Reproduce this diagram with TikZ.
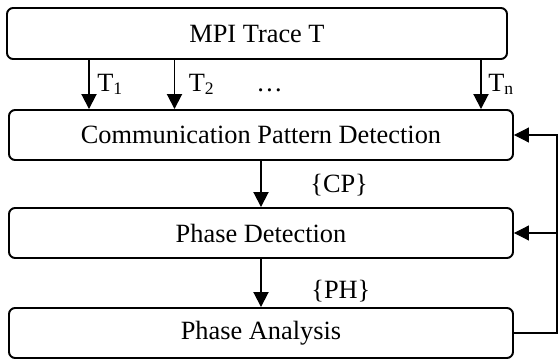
\documentclass[tikz,border=0pt]{standalone}
\usepackage{fontspec}
\setmainfont{Liberation Serif}
\usepackage{tikz}
\usetikzlibrary{arrows.meta,calc}
\tikzset{
    blk/.style={draw, rounded corners=3.5pt, line width=1.1pt, inner sep=0pt, minimum width=10.08cm, minimum height=1cm, font=\fontsize{15}{18}\selectfont},
    lbl/.style={inner sep=0pt, anchor=base west, font=\fontsize{15}{18}\selectfont},
    tri/.tip={Triangle[length=0.3cm,width=0.3cm]}}
\newcommand{\subs}[1]{\raisebox{-1.5pt}{\fontsize{10}{12}\selectfont #1}}

\begin{document}
\begin{tikzpicture}
\useasboundingbox (0,0) rectangle (11.16,7.18);

%Blocks
\node[blk, minimum width=10cm, minimum height=1.02cm] (trace) at (5.14,6.51) {MPI Trace T};
\node[blk] (cpd) at (5.22,4.48) {Communication Pattern Detection};
\node[blk] (phd) at (5.22,2.52) {Phase Detection};
\node[blk] (pha) at (5.22,0.52) {Phase Analysis};

%Split trace
\coordinate (t1) at (1.78,5.5);
\coordinate (t2) at (3.49,5.5);
\coordinate (tn) at (9.62,5.5);
\draw [-tri, line width=1.1pt](trace.south -| t1)--(cpd.north -| t1);
\draw [-tri, line width=1.1pt](trace.south -| t2)--(cpd.north -| t2);
\draw [-tri, line width=1.1pt](trace.south -| tn)--(cpd.north -| tn);
\node[lbl] (lt1) at (1.94,5.34) {T\subs{1}};
\node[lbl] (lt2) at (3.77,5.34) {T\subs{2}};
\node[lbl] (ldots) at (5.12,5.34) {…};
\node[lbl] (ltn) at (9.76,5.34) {T\subs{n}};

%Chain
\draw [-tri, line width=1.1pt](cpd.south)--(phd.north);
\draw [-tri, line width=1.1pt](phd.south)--(pha.north);
\node[lbl] (lcp) at (6.2,3.32) {\{CP\}};
\node[lbl] (lph) at (6.22,1.22) {\{PH\}};

%Feedback
\coordinate (fb) at (11.14,0);
\draw [-tri, line width=0.6pt](pha.east)--(pha.east -| fb) |- (cpd.east);
\draw [-tri, line width=0.6pt](phd.east -| fb)--(phd.east);

\end{tikzpicture}
\end{document}
